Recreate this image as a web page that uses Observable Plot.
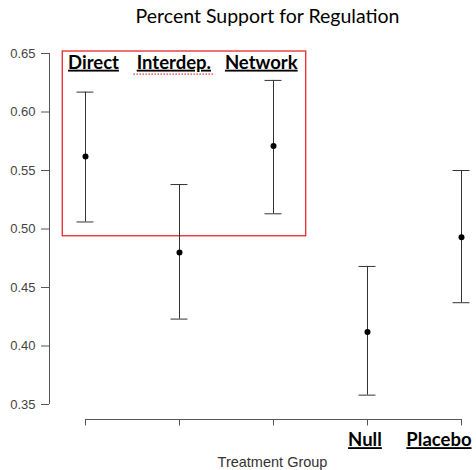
<!DOCTYPE html>
<html>
<head>
<meta charset="utf-8">
<script src="https://cdn.jsdelivr.net/npm/d3@7"></script>
<script src="https://cdn.jsdelivr.net/npm/@observablehq/plot@0.6"></script>
<style>
  html, body { margin: 0; padding: 0; background: #fff; }
  #chart svg { display: block; }
</style>
</head>
<body>
<div id="chart"></div>
<script>
const title = "Percent Support for Regulation";
const xLabel = "Treatment Group";
const categories = ["Direct", "Interdep.", "Network", "Null", "Placebo"];
const means = [0.562, 0.480, 0.571, 0.412, 0.493];
const lower = [0.506, 0.423, 0.513, 0.358, 0.437];
const upper = [0.617, 0.538, 0.627, 0.468, 0.550];
const yTicks = [0.35, 0.40, 0.45, 0.50, 0.55, 0.60, 0.65];
const boxedGroups = ["Direct", "Interdep.", "Network"];
const otherGroups = ["Null", "Placebo"];
const spellFlagged = ["Interdep."];

const data = categories.map((c, i) => ({cat: c, x: i + 1, mean: means[i], lo: lower[i], hi: upper[i]}));
const yMin = yTicks[0], yMax = yTicks[yTicks.length - 1];
const xMin = 0.617, xMax = categories.length;
const capHalf = 0.09;

// label placement tweaks (in x units) so the text sits as in the original
const topShift = [0.085, -0.06, -0.13];
const botShift = [-0.027, -0.24];
const labelY = 0.637;
const squiggleHalf = 0.425;

const axisColor = "#555";
const font = "Lato, 'Open Sans', sans-serif";
const labelSize = 18.5;

const labelX = d => boxedGroups.indexOf(d) + 1 + topShift[boxedGroups.indexOf(d)];

const chart = Plot.plot({
  width: 476,
  height: 470,
  marginLeft: 49,
  marginRight: 15,
  marginTop: 53,
  marginBottom: 66,
  style: {fontFamily: "'Liberation Sans', Arial, sans-serif", background: "#fff", overflow: "visible"},
  x: {domain: [xMin, xMax], axis: null},
  y: {domain: [yMin, yMax], axis: null},
  marks: [
    // highlight box around the first three groups
    Plot.rect([{x1: 0.758, x2: 3.348, y1: 0.4938, y2: 0.6517}], {
      x1: "x1", x2: "x2", y1: "y1", y2: "y2",
      fill: "none", stroke: "#e8262b", strokeWidth: 1.3
    }),
    // y axis
    Plot.ruleX([xMin], {y1: yMin, y2: yMax, stroke: axisColor, strokeWidth: 1}),
    Plot.axisY({
      ticks: yTicks, tickFormat: d3.format(".2f"), tickSize: 8, tickPadding: 6,
      label: null, fontSize: 13, color: "#444", stroke: axisColor
    }),
    // x axis (R-style, offset below)
    Plot.ruleY([yMin], {x1: 1, x2: categories.length, dy: 15, stroke: axisColor, strokeWidth: 1}),
    Plot.axisX({
      ticks: data.map(d => d.x), tickFormat: () => "", tickSize: 6.5, dy: 15,
      label: null, stroke: axisColor
    }),
    // error bars
    Plot.ruleX(data, {x: "x", y1: "lo", y2: "hi", stroke: "#333", strokeWidth: 1}),
    Plot.ruleY(data, {y: "hi", x1: d => d.x - capHalf, x2: d => d.x + capHalf, stroke: "#333", strokeWidth: 1}),
    Plot.ruleY(data, {y: "lo", x1: d => d.x - capHalf, x2: d => d.x + capHalf, stroke: "#333", strokeWidth: 1}),
    Plot.dot(data, {x: "x", y: "mean", r: 3, fill: "#000"}),
    // spell-check squiggle under "Interdep."
    Plot.ruleY(spellFlagged, {
      y: labelY, x1: d => labelX(d) - squiggleHalf, x2: d => labelX(d) + squiggleHalf,
      dy: 5.5, stroke: "#e33", strokeWidth: 1.2, strokeDasharray: "1.5,1.5"
    }),
    // group labels
    Plot.text(boxedGroups, {
      x: labelX, y: labelY, text: d => d,
      lineAnchor: "bottom", fontSize: labelSize, fontWeight: "bold", fontFamily: font, fill: "#000"
    }),
    Plot.text(otherGroups, {
      x: (d, i) => i + 4 + botShift[i], y: 0.3144, text: d => d,
      lineAnchor: "bottom", fontSize: labelSize, fontWeight: "bold", fontFamily: font, fill: "#000"
    }),
    // title and axis label
    Plot.text([title], {
      frameAnchor: "top", dx: 12, dy: -31, lineAnchor: "bottom",
      fontSize: 19.5, fontFamily: font, fill: "#000"
    }),
    Plot.text([xLabel], {
      frameAnchor: "bottom", dx: 17, dy: 62.5, lineAnchor: "bottom",
      fontSize: 14.5, fill: "#333"
    })
  ]
});

const labelSet = new Set([...boxedGroups, ...otherGroups]);
d3.select(chart).selectAll("text").filter(function () {
  return labelSet.has(this.textContent);
}).style("text-decoration", "underline").style("text-decoration-thickness", "1.6px");

document.getElementById("chart").appendChild(chart);
</script>
</body>
</html>
